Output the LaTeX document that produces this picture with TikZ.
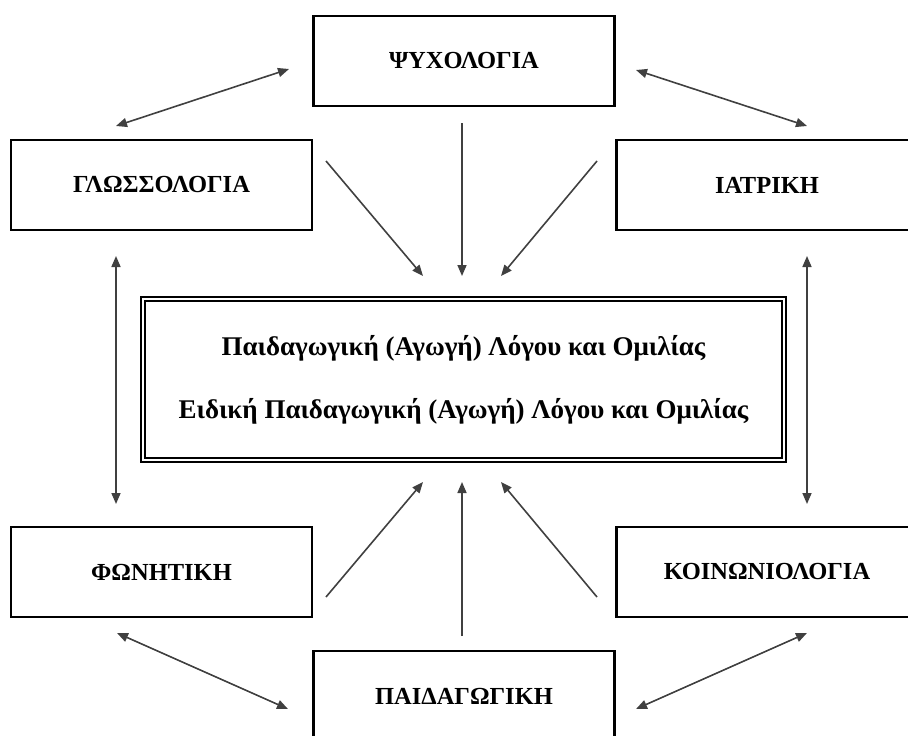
\documentclass[tikz,border=0pt]{standalone}
\usepackage{fontspec}
\setmainfont{Liberation Serif}
\usetikzlibrary{arrows.meta}

\begin{document}
\begin{tikzpicture}[x=1pt,y=-1pt,
  field node/.style={draw,line width=2.6pt,minimum width=301pt,minimum height=90pt,inner sep=0pt,font=\fontsize{24.5}{28}\selectfont\bfseries},
  main node/.style={draw,double,line width=2.2pt,double distance=2pt,minimum width=641pt,minimum height=161pt,align=center,font=\fontsize{27}{63}\selectfont\bfseries},
  link/.style={draw=black!75,line width=1.6pt,-{Triangle[length=11pt,width=9pt]}},
  both/.style={link,{Triangle[length=11pt,width=9pt]}-{Triangle[length=11pt,width=9pt]}}]

  \useasboundingbox (0,0) rectangle (908,736);
  \clip (0,0) rectangle (908,736);

  \node[field node] (psy) at (464,61) {ΨΥΧΟΛΟΓΙΑ};
  \node[field node] (gloss) at (161.5,185) {ΓΛΩΣΣΟΛΟΓΙΑ};
  \node[field node] (iatr) at (767,185) {ΙΑΤΡΙΚΗ};
  \node[field node] (phon) at (161.5,572) {ΦΩΝΗΤΙΚΗ};
  \node[field node] (koin) at (767,572) {ΚΟΙΝΩΝΙΟΛΟΓΙΑ};
  \node[field node] (paid) at (464,696) {ΠΑΙΔΑΓΩΓΙΚΗ};
  \node[main node] (c) at (463.5,379.5) {Παιδαγωγική (Αγωγή) Λόγου και Ομιλίας\\Ειδική Παιδαγωγική (Αγωγή) Λόγου και Ομιλίας};

  % arrow ends
  \coordinate (g1) at (116,126);  \coordinate (p1) at (289,69);
  \coordinate (p2) at (636,70);   \coordinate (i1) at (807,126);
  \coordinate (g2) at (326,161);  \coordinate (c1) at (423,276);
  \coordinate (p3) at (462,123);  \coordinate (c2) at (462,276);
  \coordinate (i2) at (597,161);  \coordinate (c3) at (501,276);
  \coordinate (g3) at (116,256);  \coordinate (f1) at (116,504);
  \coordinate (i3) at (807,256);  \coordinate (k1) at (807,504);
  \coordinate (f2) at (326,597);  \coordinate (c4) at (423,482);
  \coordinate (d1) at (462,636);  \coordinate (c5) at (462,482);
  \coordinate (k2) at (597,597);  \coordinate (c6) at (501,482);
  \coordinate (f3) at (117,633);  \coordinate (d2) at (288,709);
  \coordinate (k3) at (807,633);  \coordinate (d3) at (636,709);

  \draw[both] (g1) -- (p1);
  \draw[both] (p2) -- (i1);
  \draw[both] (g3) -- (f1);
  \draw[both] (i3) -- (k1);
  \draw[both] (f3) -- (d2);
  \draw[both] (k3) -- (d3);

  \draw[link] (g2) -- (c1);
  \draw[link] (p3) -- (c2);
  \draw[link] (i2) -- (c3);
  \draw[link] (f2) -- (c4);
  \draw[link] (d1) -- (c5);
  \draw[link] (k2) -- (c6);

\end{tikzpicture}
\end{document}
